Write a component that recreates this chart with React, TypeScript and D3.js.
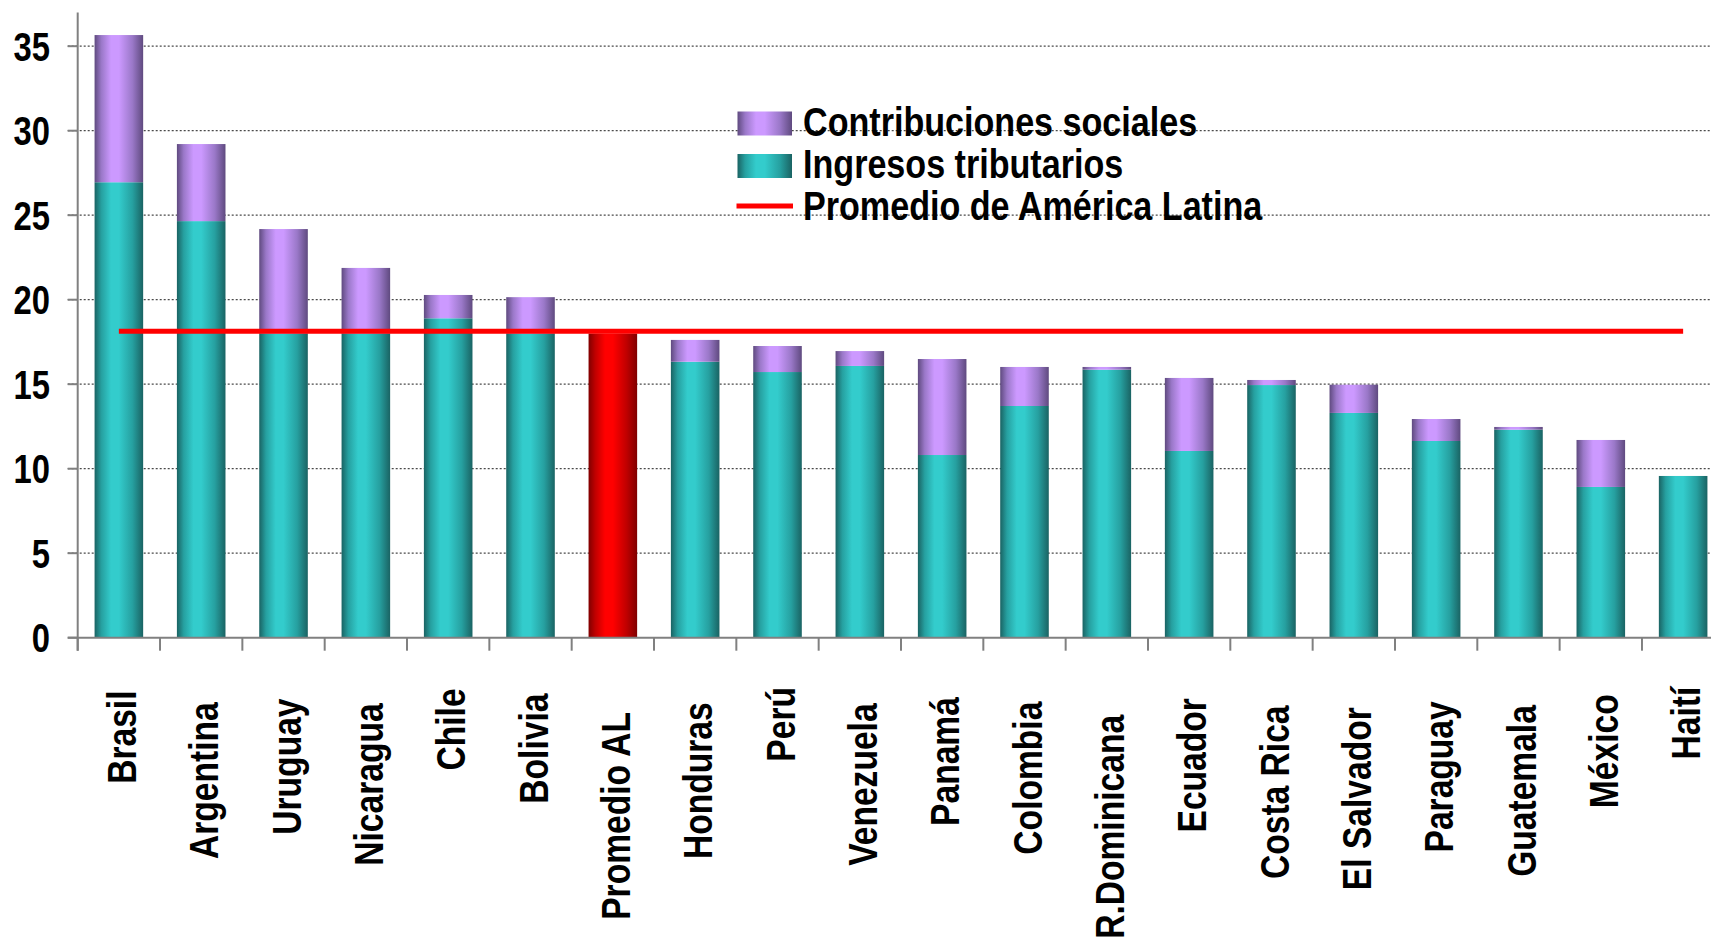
import { useMemo } from 'react'
import { scaleBand, scaleLinear, range } from 'd3'

const WIDTH = 1711
const HEIGHT = 942
const X0 = 77.7
const X1 = 1724.3
const Y_ZERO = 637.7
const Y_TOP = 12.4
const FONT = "'Liberation Sans', Arial, sans-serif"
const FONT_SIZE = 40
const NARROW_TICK = 0.82
const NARROW_LABEL = 0.84
const NARROW = 0.853

const categories = [
  'Brasil', 'Argentina', 'Uruguay', 'Nicaragua', 'Chile', 'Bolivia', 'Promedio AL', 'Honduras', 'Perú',
  'Venezuela', 'Panamá', 'Colombia', 'R.Dominicana', 'Ecuador', 'Costa Rica', 'El Salvador', 'Paraguay',
  'Guatemala', 'México', 'Haití',
]
const ingresosTributarios = [
  26.95, 24.65, 18.0, 18.0, 18.9, 18.0, 18.0, 16.33, 15.72, 16.08, 10.81, 13.71, 15.86, 11.05, 14.95, 13.3,
  11.64, 12.31, 8.92, 9.57,
]
const contribucionesSociales = [
  8.71, 4.56, 6.18, 3.88, 1.38, 2.15, 0, 1.29, 1.54, 0.88, 5.68, 2.31, 0.16, 4.32, 0.3, 1.67, 1.3, 0.16, 2.78, 0,
]
const promedioAL = 18.13
const highlighted = 'Promedio AL'
const yTicks = [0, 5, 10, 15, 20, 25, 30, 35]
const legendLabels = ['Contribuciones sociales', 'Ingresos tributarios', 'Promedio de América Latina']

const GRADIENTS = {
  teal: { dark: '#1a6363', mid: '#26a0a0', bright: '#33cccc' },
  purple: { dark: '#5f4a7f', mid: '#9a78c8', bright: '#cc99ff' },
  red: { dark: '#800000', mid: '#c00000', bright: '#ff0000' },
}

function measure(text: string) {
  const canvas = document.createElement('canvas')
  const ctx = canvas.getContext('2d')
  if (!ctx) return text.length * 20
  ctx.font = `bold ${FONT_SIZE}px ${FONT}`
  return ctx.measureText(text).width * NARROW_LABEL
}

function Gradient({ id, colors }: { id: string; colors: { dark: string; mid: string; bright: string } }) {
  return (
    <linearGradient id={id} x1="0" x2="1" y1="0" y2="0">
      <stop offset="0" stopColor={colors.dark} />
      <stop offset="0.14" stopColor={colors.mid} />
      <stop offset="0.34" stopColor={colors.bright} />
      <stop offset="0.5" stopColor={colors.bright} />
      <stop offset="0.78" stopColor={colors.mid} />
      <stop offset="1" stopColor={colors.dark} />
    </linearGradient>
  )
}

export default function App() {
  const x = scaleBand<string>().domain(categories).range([X0, X1]).paddingInner(0.41).paddingOuter(0.205)
  const y = scaleLinear().domain([0, 37]).range([Y_ZERO, Y_TOP])
  const step = x.step()
  const bw = x.bandwidth()
  const center = (c: string) => (x(c) ?? 0) + bw / 2

  const labelLengths = useMemo(() => categories.map(measure), [])

  const textStyle = { fontFamily: FONT, fontSize: FONT_SIZE, fontWeight: 700 as const, fill: '#000' }

  return (
    <svg
      width={WIDTH}
      height={HEIGHT}
      viewBox={`0 0 ${WIDTH} ${HEIGHT}`}
      style={{ position: 'absolute', left: 0, top: 0, background: '#fff' }}
    >
      <defs>
        <Gradient id="g-teal" colors={GRADIENTS.teal} />
        <Gradient id="g-purple" colors={GRADIENTS.purple} />
        <Gradient id="g-red" colors={GRADIENTS.red} />
      </defs>
      <rect width={WIDTH} height={HEIGHT} fill="#fff" />

      {/* gridlines */}
      {yTicks
        .filter((t) => t > 0)
        .map((t) => (
          <line
            key={t}
            x1={X0 - 10}
            x2={WIDTH}
            y1={y(t)}
            y2={y(t)}
            stroke="#4a4a4a"
            strokeWidth={1.2}
            strokeDasharray="2 2"
          />
        ))}

      {/* bars */}
      {categories.map((c, i) => {
        const bx = x(c) ?? 0
        const base = ingresosTributarios[i]
        const top = base + contribucionesSociales[i]
        return (
          <g key={c}>
            <rect
              x={bx}
              width={bw}
              y={y(base)}
              height={y(0) - y(base)}
              fill={c === highlighted ? 'url(#g-red)' : 'url(#g-teal)'}
            />
            {contribucionesSociales[i] > 0 && (
              <rect x={bx} width={bw} y={y(top)} height={y(base) - y(top)} fill="url(#g-purple)" />
            )}
          </g>
        )
      })}

      {/* average line */}
      <line
        x1={center(categories[0])}
        x2={center(categories[categories.length - 1])}
        y1={y(promedioAL)}
        y2={y(promedioAL)}
        stroke="#ff0000"
        strokeWidth={5}
      />

      {/* y axis */}
      <line x1={X0} x2={X0} y1={Y_TOP} y2={Y_ZERO + 13} stroke="#808080" strokeWidth={2} />
      {yTicks.map((t) => (
        <g key={t}>
          <line x1={X0 - 10} x2={X0} y1={y(t)} y2={y(t)} stroke="#808080" strokeWidth={2} />
          <text
            transform={`translate(50, ${y(t)}) scale(${NARROW_TICK}, 1)`}
            textAnchor="end"
            dy="0.36em"
            style={textStyle}
          >
            {t}
          </text>
        </g>
      ))}

      {/* x axis */}
      <line x1={X0 - 10} x2={WIDTH} y1={Y_ZERO} y2={Y_ZERO} stroke="#808080" strokeWidth={2} />
      {range(categories.length + 1).map((i) => (
        <line
          key={i}
          x1={X0 + i * step}
          x2={X0 + i * step}
          y1={Y_ZERO}
          y2={Y_ZERO + 13}
          stroke="#808080"
          strokeWidth={2}
        />
      ))}
      {categories.map((c, i) => {
        const top = 673 + 0.187 * labelLengths[i]
        return (
          <text
            key={c}
            transform={`translate(${center(c)}, ${top}) rotate(-90) scale(${NARROW_LABEL}, 1)`}
            textAnchor="end"
            dy="0.43em"
            style={textStyle}
          >
            {c}
          </text>
        )
      })}

      {/* legend */}
      <g>
        <rect x={737.5} y={111.5} width={54.5} height={24} fill="url(#g-purple)" />
        <rect x={737.5} y={154} width={54.5} height={24} fill="url(#g-teal)" />
        <line x1={736.5} x2={793} y1={206} y2={206} stroke="#ff0000" strokeWidth={5} />
        {legendLabels.map((label, i) => (
          <text
            key={label}
            transform={`translate(803, ${136 + i * 42}) scale(${NARROW}, 1)`}
            style={textStyle}
          >
            {label}
          </text>
        ))}
      </g>
    </svg>
  )
}
